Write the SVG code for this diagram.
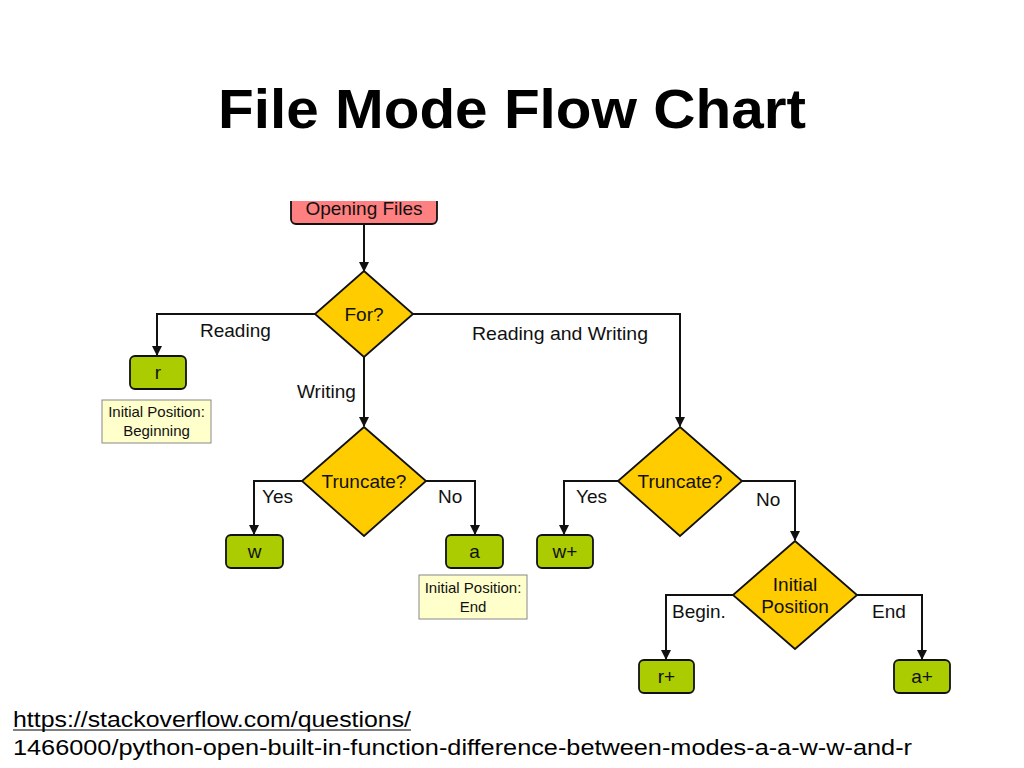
<svg xmlns="http://www.w3.org/2000/svg" width="1024" height="768" viewBox="0 0 1024 768">
<style>
.t{font-family:"Liberation Sans",Arial,sans-serif;fill:#111;}
.k{fill:#000;}
.lbl{font-size:19px;}
.c{text-anchor:middle;}
.note-t{font-size:15px;}
.dia{fill:#FFCC00;stroke:#111;stroke-width:1.8;}
.box{fill:#AACC00;stroke:#111;stroke-width:1.8;}
.note{fill:#FFFFCC;stroke:#888;stroke-width:1;}
.con{fill:none;stroke:#111;stroke-width:2;marker-end:url(#ah);}
</style>
<defs>
<marker id="ah" markerWidth="10" markerHeight="12" refX="9" refY="5" orient="auto" markerUnits="userSpaceOnUse" viewBox="0 0 10 10">
<path d="M0,0 L10,5 L0,10 Z" fill="#111"/>
</marker>
<clipPath id="topclip"><rect x="0" y="201" width="1024" height="100"/></clipPath>
</defs>
<rect width="1024" height="768" fill="#fff"/>
<text class="t k c" x="512" y="128" font-size="56" font-weight="bold" textLength="588" lengthAdjust="spacingAndGlyphs">File Mode Flow Chart</text>

<g id="connectors">
<path class="con" d="M364,224 V271"/>
<path class="con" d="M315,314 H157 V355"/>
<path class="con" d="M413,314 H680 V426"/>
<path class="con" d="M364,357 V426"/>
<path class="con" d="M302,481 H254 V534"/>
<path class="con" d="M426,481 H475 V534"/>
<path class="con" d="M618,481 H564 V534"/>
<path class="con" d="M742,481 H795 V540"/>
<path class="con" d="M733,595 H666 V659"/>
<path class="con" d="M857,595 H922 V659"/>
<text class="t lbl" x="200" y="337">Reading</text>
<text class="t lbl" x="472" y="340" textLength="176" lengthAdjust="spacingAndGlyphs">Reading and Writing</text>
<text class="t lbl" x="297" y="398">Writing</text>
<text class="t lbl" x="262" y="503">Yes</text>
<text class="t lbl" x="438" y="503">No</text>
<text class="t lbl" x="576" y="503">Yes</text>
<text class="t lbl" x="756" y="506">No</text>
<text class="t lbl" x="672" y="618">Begin.</text>
<text class="t lbl" x="872" y="618">End</text>
</g>

<g id="opening">
<g clip-path="url(#topclip)">
<rect x="291" y="185" width="146" height="39" rx="5" fill="#FF8080" stroke="#111" stroke-width="1.8"/>
<text class="t lbl c" x="364" y="215">Opening Files</text>
</g>
</g>

<g id="for">
<polygon class="dia" points="364,271 413,314 364,357 315,314"/>
<text class="t lbl c" x="364" y="321">For?</text>
</g>

<g id="r">
<rect class="box" x="130" y="356" width="56" height="33" rx="5"/>
<text class="t lbl c" x="158" y="379">r</text>
</g>
<g id="note-r">
<rect class="note" x="102" y="400" width="109" height="43"/>
<text class="t note-t c" x="156.5" y="417">Initial Position:</text>
<text class="t note-t c" x="156.5" y="436">Beginning</text>
</g>

<g id="truncate1">
<polygon class="dia" points="364,427 426,481 364,536 302,481"/>
<text class="t lbl c" x="364" y="488">Truncate?</text>
</g>
<g id="w">
<rect class="box" x="226" y="535" width="57" height="33" rx="5"/>
<text class="t lbl c" x="254.5" y="558">w</text>
</g>
<g id="a">
<rect class="box" x="446" y="535" width="57" height="33" rx="5"/>
<text class="t lbl c" x="474.5" y="558">a</text>
</g>
<g id="note-a">
<rect class="note" x="419" y="575" width="108" height="44"/>
<text class="t note-t c" x="473" y="593">Initial Position:</text>
<text class="t note-t c" x="473" y="612">End</text>
</g>

<g id="truncate2">
<polygon class="dia" points="680,427 742,481 680,536 618,481"/>
<text class="t lbl c" x="680" y="488">Truncate?</text>
</g>
<g id="wplus">
<rect class="box" x="537" y="535" width="56" height="33" rx="5"/>
<text class="t lbl c" x="565" y="558">w+</text>
</g>

<g id="initpos">
<polygon class="dia" points="795,541 857,595 795,649 733,595"/>
<text class="t lbl c" x="795" y="591">Initial</text>
<text class="t lbl c" x="795" y="613">Position</text>
</g>
<g id="rplus">
<rect class="box" x="639" y="660" width="55" height="33" rx="5"/>
<text class="t lbl c" x="666.5" y="683">r+</text>
</g>
<g id="aplus">
<rect class="box" x="894" y="660" width="56" height="33" rx="5"/>
<text class="t lbl c" x="922" y="683">a+</text>
</g>

<text class="t k" x="13" y="727" font-size="22" textLength="398" lengthAdjust="spacingAndGlyphs">https://stackoverflow.com/questions/</text>
<line x1="13" y1="730" x2="411" y2="730" stroke="#000" stroke-width="1.2"/>
<text class="t k" x="13" y="755" font-size="22" textLength="899" lengthAdjust="spacingAndGlyphs">1466000/python-open-built-in-function-difference-between-modes-a-a-w-w-and-r</text>
</svg>
